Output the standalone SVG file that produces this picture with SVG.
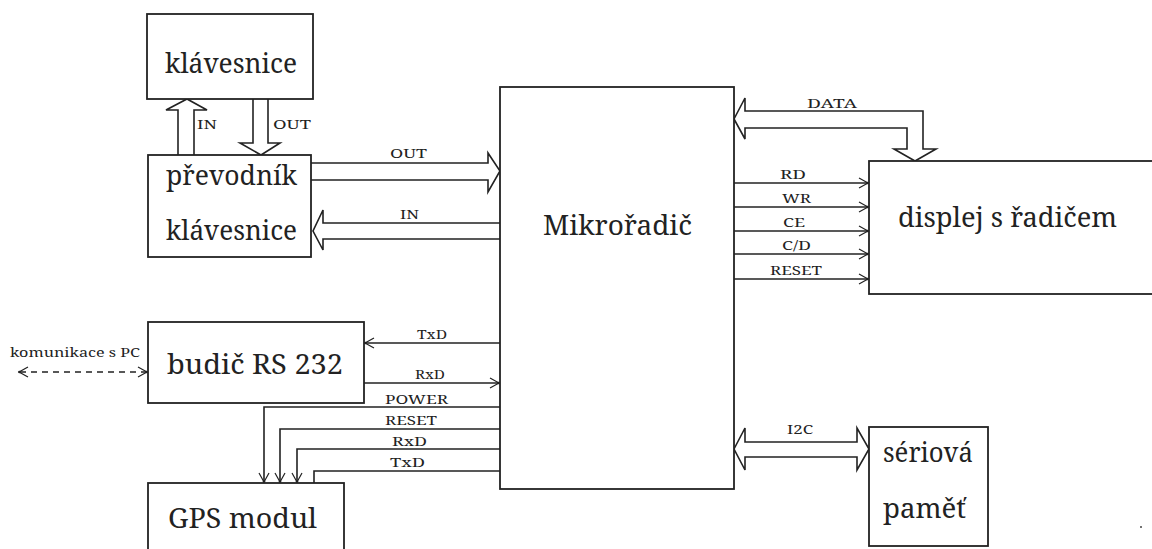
<svg xmlns="http://www.w3.org/2000/svg" width="1152" height="549" viewBox="0 0 1152 549">
<style>
.box{fill:#fff;stroke:#222;stroke-width:1.8}
.ln{fill:none;stroke:#222;stroke-width:1.6}
.hol{fill:none;stroke:#222;stroke-width:1.6;stroke-linejoin:miter}
</style>
<defs>
<marker id="ah" markerUnits="userSpaceOnUse" markerWidth="14" markerHeight="14" viewBox="-10 -7 12 14" refX="0" refY="0" orient="auto-start-reverse">
<path d="M-9,-5 L0,0 L-9,5" fill="none" stroke="#222" stroke-width="1.2"/>
<circle cx="-0.5" cy="0" r="1.3" fill="#222"/>
</marker>
</defs>
<rect width="1152" height="549" fill="#fff"/>

<g id="connectors">
<path class="hol" d="M178,155 V110 H166 L187,99 L207,110 H194 V155"/>
<path class="hol" d="M253,99 V143 H240 L261,155 L280,143 H268 V99"/>
<path class="hol" d="M311,163 H488 V153 L500,171 L488,192 V180 H311"/>
<path class="hol" d="M500,223 H323 V210 L313,231 L323,250 V239 H500"/>
<path class="ln" d="M500,343 H365" marker-end="url(#ah)"/>
<path class="ln" d="M364,383 H499" marker-end="url(#ah)"/>
<path class="ln" d="M147,372 H19" stroke-dasharray="6,5" marker-start="url(#ah)" marker-end="url(#ah)"/>
<path class="ln" d="M500,407 H264 V482" marker-end="url(#ah)"/>
<path class="ln" d="M500,429 H280 V482" marker-end="url(#ah)"/>
<path class="ln" d="M500,449 H297 V482" marker-end="url(#ah)"/>
<path class="ln" d="M500,471 H314 V483"/>
<path class="hol" d="M734,119 L745,98 V111 H923 V149 H936 L915,161 L894,149 H907 V128 H745 V139 Z"/>
<path class="ln" d="M734,183 H868" marker-end="url(#ah)"/>
<path class="ln" d="M734,207 H868" marker-end="url(#ah)"/>
<path class="ln" d="M734,231 H868" marker-end="url(#ah)"/>
<path class="ln" d="M734,254 H868" marker-end="url(#ah)"/>
<path class="ln" d="M734,279 H868" marker-end="url(#ah)"/>
<path class="hol" d="M734,449 L745,428 V442 H857 V428 L869,449 L857,470 V457 H745 V470 Z"/>
<g font-family="'Noto Serif','Liberation Serif',serif" font-size="13" fill="#222" lengthAdjust="spacingAndGlyphs">
<text x="197" y="129" textLength="20" lengthAdjust="spacingAndGlyphs">IN</text>
<text x="273" y="129" textLength="38" lengthAdjust="spacingAndGlyphs">OUT</text>
<text x="390" y="158" textLength="37" lengthAdjust="spacingAndGlyphs">OUT</text>
<text x="400" y="219" textLength="19" lengthAdjust="spacingAndGlyphs">IN</text>
<text x="417" y="339" textLength="30" lengthAdjust="spacingAndGlyphs">TxD</text>
<text x="415" y="379" textLength="30" lengthAdjust="spacingAndGlyphs">RxD</text>
<text x="10" y="357" font-size="12" textLength="130" lengthAdjust="spacingAndGlyphs">komunikace s PC</text>
<text x="385" y="404" textLength="63" lengthAdjust="spacingAndGlyphs">POWER</text>
<text x="385" y="425" textLength="52" lengthAdjust="spacingAndGlyphs">RESET</text>
<text x="392" y="446" textLength="35" lengthAdjust="spacingAndGlyphs">RxD</text>
<text x="390" y="467" textLength="35" lengthAdjust="spacingAndGlyphs">TxD</text>
<text x="807" y="108" textLength="50" lengthAdjust="spacingAndGlyphs">DATA</text>
<text x="780" y="179" textLength="26" lengthAdjust="spacingAndGlyphs">RD</text>
<text x="782" y="203" textLength="29" lengthAdjust="spacingAndGlyphs">WR</text>
<text x="783" y="227" textLength="22" lengthAdjust="spacingAndGlyphs">CE</text>
<text x="782" y="250" textLength="29" lengthAdjust="spacingAndGlyphs">C/D</text>
<text x="770" y="275" textLength="52" lengthAdjust="spacingAndGlyphs">RESET</text>
<text x="787" y="434" textLength="26" lengthAdjust="spacingAndGlyphs">I2C</text>
</g>
</g>

<g font-family="'Noto Serif','Liberation Serif',serif" font-size="28" fill="#222">
<g id="klavesnice">
<rect class="box" x="147" y="14" width="166" height="85"/>
<text x="165" y="73" textLength="132" lengthAdjust="spacingAndGlyphs">klávesnice</text>
</g>
<g id="prevodnik">
<rect class="box" x="148" y="155" width="163" height="102"/>
<text x="166" y="185" textLength="131" lengthAdjust="spacingAndGlyphs">převodník</text>
<text x="166" y="240" textLength="131" lengthAdjust="spacingAndGlyphs">klávesnice</text>
</g>
<g id="budic">
<rect class="box" x="148" y="322" width="216" height="81"/>
<text x="167" y="374" textLength="176" lengthAdjust="spacingAndGlyphs">budič RS 232</text>
</g>
<g id="gps">
<rect class="box" x="148" y="483" width="196" height="80"/>
<text x="168" y="528" textLength="149" lengthAdjust="spacingAndGlyphs">GPS modul</text>
</g>
<g id="mikroradic">
<rect class="box" x="500" y="87" width="234" height="402"/>
<text x="543" y="235" textLength="149" lengthAdjust="spacingAndGlyphs">Mikrořadič</text>
</g>
<g id="displej">
<rect class="box" x="869" y="161" width="295" height="133"/>
<text x="898" y="227" textLength="219" lengthAdjust="spacingAndGlyphs">displej s řadičem</text>
</g>
<g id="pamet">
<rect class="box" x="869" y="427" width="119" height="119"/>
<text x="883" y="462" textLength="90" lengthAdjust="spacingAndGlyphs">sériová</text>
<text x="883" y="518" textLength="83" lengthAdjust="spacingAndGlyphs">paměť</text>
</g>
</g>
<circle cx="1141" cy="527" r="1" fill="#444"/>
</svg>
